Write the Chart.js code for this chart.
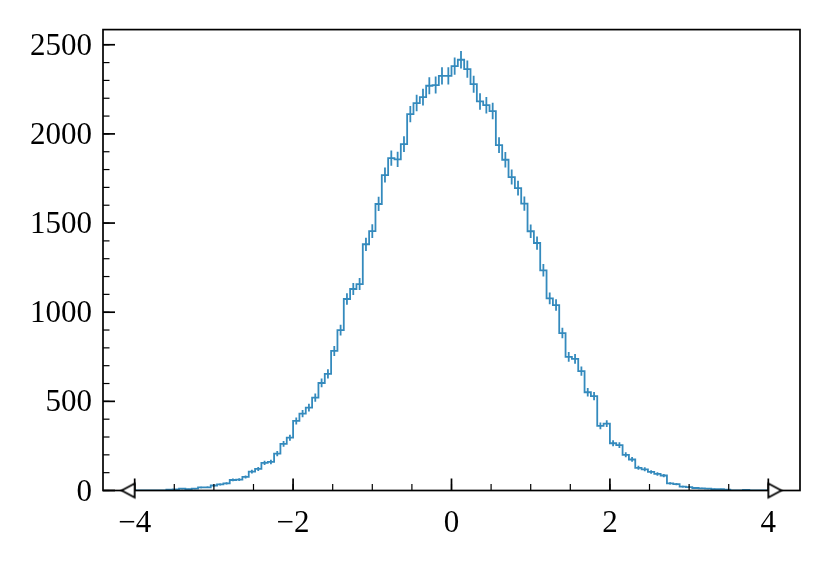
<!DOCTYPE html>
<html>
<head>
<meta charset="utf-8">
<script src="https://cdn.jsdelivr.net/npm/chart.js@4.4.0/dist/chart.umd.min.js"></script>
<style>
  html, body { margin: 0; padding: 0; background: #fff; }
  #wrap { width: 830px; height: 569px; }
</style>
</head>
<body>
<div id="wrap"><canvas id="hist"></canvas></div>
<script>
// histogram: 100 equal bins over histRange, counts
const histRange = [-4, 4];
const counts = [
    0, 0, 0, 0, 0, 5, 6, 11, 7, 11,
    17, 18, 28, 34, 40, 59, 61, 76, 106, 121,
    155, 160, 207, 262, 296, 390, 431, 465, 521, 603,
    654, 783, 900, 1074, 1130, 1158, 1381, 1455, 1607, 1769,
    1864, 1857, 1943, 2111, 2173, 2206, 2270, 2274, 2326, 2326,
    2380, 2416, 2363, 2279, 2182, 2161, 2128, 1937, 1855, 1758,
    1696, 1609, 1454, 1388, 1235, 1078, 1040, 883, 749, 738,
    670, 551, 529, 362, 375, 265, 254, 200, 174, 127,
    119, 104, 93, 84, 40, 36, 22, 19, 14, 12,
    10, 8, 7, 5, 1, 1, 4, 0, 0, 0
];
// caret markers sitting on the baseline
const markerX = [-4, 4];

const xLimits = [-4.4, 4.4];
const yLimits = [0, 2585];
const xTicks = [-4, -2, 0, 2, 4];
const xTickLabels = ['\u22124', '\u22122', '0', '2', '4'];
const xMinorStep = 0.5;
const yTicks = [0, 500, 1000, 1500, 2000, 2500];
const yTickLabels = ['0', '500', '1000', '1500', '2000', '2500'];
const yMinorStep = 100;

const lineColor = '#348ABD';

// bin edges and step outline
const binWidth = (histRange[1] - histRange[0]) / counts.length;
const edges = counts.map((c, i) => histRange[0] + i * binWidth);
edges.push(histRange[1]);

const stepPoints = [{ x: edges[0], y: 0 }];
counts.forEach((c, i) => stepPoints.push({ x: edges[i], y: c }));
stepPoints.push({ x: edges[edges.length - 1], y: counts[counts.length - 1] });
stepPoints.push({ x: edges[edges.length - 1], y: 0 });

function makeCaret(dir) {
    const c = document.createElement('canvas');
    c.width = 32; c.height = 32;
    const g = c.getContext('2d');
    g.beginPath();
    g.moveTo(16, 9);
    g.lineTo(16 + dir * 13, 16);
    g.lineTo(16, 23);
    g.closePath();
    g.fillStyle = '#fff';
    g.fill();
    g.lineWidth = 1.8;
    g.lineJoin = 'miter';
    g.strokeStyle = '#000';
    g.stroke();
    return c;
}

// frame, inward ticks and sqrt(N) error bars
const framePlugin = {
    id: 'frame',
    afterDatasetDraw(chart, args) {
        if (args.index !== 0) return;
        const { ctx, chartArea: a, scales: { x, y } } = chart;

        ctx.save();
        ctx.beginPath();
        ctx.rect(a.left, a.top, a.right - a.left, a.bottom - a.top);
        ctx.clip();
        ctx.strokeStyle = lineColor;
        ctx.lineWidth = 1.8;
        counts.forEach((c, i) => {
            if (c <= 0) return;
            const err = Math.sqrt(c);
            const px = x.getPixelForValue((edges[i] + edges[i + 1]) / 2);
            ctx.beginPath();
            ctx.moveTo(px, y.getPixelForValue(c - err));
            ctx.lineTo(px, y.getPixelForValue(c + err));
            ctx.stroke();
        });
        ctx.restore();

        ctx.save();
        ctx.strokeStyle = '#000';
        // minor ticks
        ctx.lineWidth = 1.2;
        for (let v = Math.ceil(xLimits[0] / xMinorStep) * xMinorStep; v <= xLimits[1]; v += xMinorStep) {
            const px = x.getPixelForValue(v);
            ctx.beginPath();
            ctx.moveTo(px, a.bottom);
            ctx.lineTo(px, a.bottom - 6.5);
            ctx.stroke();
        }
        for (let v = 0; v <= yLimits[1]; v += yMinorStep) {
            const py = y.getPixelForValue(v);
            ctx.beginPath();
            ctx.moveTo(a.left, py);
            ctx.lineTo(a.left + 6.5, py);
            ctx.stroke();
        }
        // major ticks
        ctx.lineWidth = 1.7;
        xTicks.forEach(v => {
            const px = x.getPixelForValue(v);
            ctx.beginPath();
            ctx.moveTo(px, a.bottom);
            ctx.lineTo(px, a.bottom - 12);
            ctx.stroke();
        });
        yTicks.forEach(v => {
            const py = y.getPixelForValue(v);
            ctx.beginPath();
            ctx.moveTo(a.left, py);
            ctx.lineTo(a.left + 12, py);
            ctx.stroke();
        });
        ctx.lineWidth = 1.7;
        ctx.strokeRect(a.left, a.top, a.right - a.left, a.bottom - a.top);
        ctx.restore();
    }
};

const tickFont = { family: "'Liberation Serif', 'DejaVu Serif', serif", size: 31 };

new Chart(document.getElementById('hist'), {
    type: 'line',
    data: {
        datasets: [{
            data: stepPoints,
            stepped: 'before',
            borderColor: lineColor,
            borderWidth: 1.8,
            pointRadius: 0,
            fill: false,
            order: 2
        }, {
            type: 'scatter',
            data: markerX.map(v => ({ x: v, y: 0 })),
            pointStyle: [makeCaret(-1), makeCaret(1)],
            pointRadius: 10,
            clip: false,
            order: 1
        }]
    },
    options: {
        responsive: true,
        maintainAspectRatio: false,
        animation: false,
        layout: { padding: { left: 0, right: 30, top: 29, bottom: 0 } },
        plugins: { legend: { display: false }, tooltip: { enabled: false } },
        scales: {
            x: {
                type: 'linear',
                min: xLimits[0],
                max: xLimits[1],
                grid: { display: false, drawTicks: false },
                border: { display: false },
                afterBuildTicks: s => { s.ticks = xTicks.map(v => ({ value: v })); },
                afterFit: s => { s.height = 78.5; },
                ticks: {
                    color: '#000',
                    font: tickFont,
                    padding: 15,
                    maxRotation: 0,
                    callback: (v) => xTickLabels[xTicks.indexOf(v)]
                }
            },
            y: {
                min: yLimits[0],
                max: yLimits[1],
                grid: { display: false, drawTicks: false },
                border: { display: false },
                afterBuildTicks: s => { s.ticks = yTicks.map(v => ({ value: v })); },
                afterFit: s => { s.width = 103; },
                ticks: {
                    color: '#000',
                    font: tickFont,
                    padding: 11,
                    labelOffset: 2,
                    callback: (v) => yTickLabels[yTicks.indexOf(v)]
                }
            }
        }
    },
    plugins: [framePlugin]
});
</script>
</body>
</html>
